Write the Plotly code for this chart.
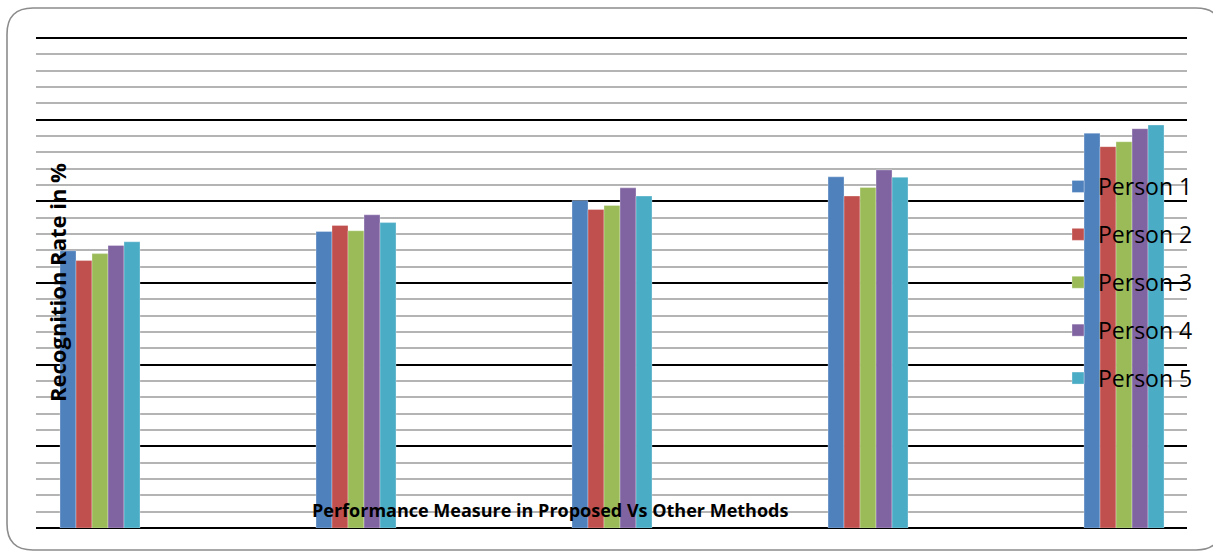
import plotly.graph_objects as go

categories = ["Method 1", "Method 2", "Method 3", "Method 4", "Proposed"]
series_names = ["Person 1", "Person 2", "Person 3", "Person 4", "Person 5"]
person1 = [67.9, 72.6, 80.2, 86.0, 96.7]
person2 = [65.5, 74.1, 78.0, 81.3, 93.4]
person3 = [67.2, 72.8, 79.0, 83.4, 94.6]
person4 = [69.2, 76.7, 83.3, 87.7, 97.8]
person5 = [70.1, 74.8, 81.3, 85.9, 98.7]
series_values = [person1, person2, person3, person4, person5]
colors = ["#4F81BD", "#C0504D", "#9BBB59", "#8064A2", "#4BACC6"]

W, H = 1213, 553
L, R, T, B = 36, 1187, 37, 528  # plot area in px


def px(x):
    return (x - L) / (R - L)


def py(y):
    return (B - y) / (B - T)


fig = go.Figure()
for i, (name, vals) in enumerate(zip(series_names, series_values)):
    fig.add_trace(go.Bar(
        x=categories, y=vals, name=name,
        marker=dict(color=colors[i], line=dict(width=0.6, color="rgba(255,255,255,0.5)")),
        legendgroup=name,
    ))

# rounded border path (paper coords)
x0, x1, y0, y1, r = 7, 1222, 8, 550, 26
rx, ry = r / (R - L), r / (B - T)
X0, X1, Y0, Y1 = px(x0), px(x1), py(y0), py(y1)
path = (f"M {X0+rx},{Y0} L {X1-rx},{Y0} Q {X1},{Y0} {X1},{Y0-ry} "
        f"L {X1},{Y1+ry} Q {X1},{Y1} {X1-rx},{Y1} "
        f"L {X0+rx},{Y1} Q {X0},{Y1} {X0},{Y1+ry} "
        f"L {X0},{Y0-ry} Q {X0},{Y0} {X0+rx},{Y0} Z")

fig.update_layout(
    width=W, height=H,
    margin=dict(l=L, r=W - R, t=T, b=H - B, pad=0),
    paper_bgcolor="white", plot_bgcolor="white",
    barmode="group", bargap=0.6875, bargroupgap=0,
    font=dict(family="Open Sans", color="black"),
    showlegend=True,
    legend=dict(
        x=px(1058), y=py(165), xanchor="left", yanchor="top",
        bgcolor="rgba(0,0,0,0)", font=dict(size=23, family="Open Sans", color="black"),
        traceorder="grouped", tracegroupgap=15, itemwidth=30,
    ),
    xaxis=dict(
        type="category", range=[-0.25, 4.246], showticklabels=False,
        showgrid=False, ticks="", showline=False, zeroline=False, fixedrange=True,
    ),
    yaxis=dict(
        range=[0, 120.25], dtick=20, showticklabels=False, ticks="",
        showgrid=True, gridcolor="black", gridwidth=1.8,
        zeroline=True, zerolinecolor="black", zerolinewidth=1.9,
        minor=dict(dtick=4, showgrid=True, gridcolor="#B4B4B4", gridwidth=1.6),
        showline=False, fixedrange=True,
    ),
    shapes=[dict(type="path", path=path, xref="paper", yref="paper",
                 line=dict(color="#8C8C8C", width=1.6), fillcolor="rgba(0,0,0,0)", layer="above")],
    annotations=[
        dict(text="<b>Performance Measure in Proposed Vs Other Methods</b>",
             x=px(550), y=py(510), xref="paper", yref="paper", showarrow=False,
             font=dict(size=18, family="Open Sans", color="black"), xanchor="center", yanchor="middle"),
        dict(text="<b>Recognition Rate in %</b>", textangle=-90,
             x=px(57), y=py(283), xref="paper", yref="paper", showarrow=False,
             font=dict(size=22, family="Open Sans", color="black"), xanchor="center", yanchor="middle"),
    ],
)

fig.write_html("out.html", config={"displayModeBar": False},
               post_script="document.body.style.margin='0';document.body.style.overflow='hidden';")
